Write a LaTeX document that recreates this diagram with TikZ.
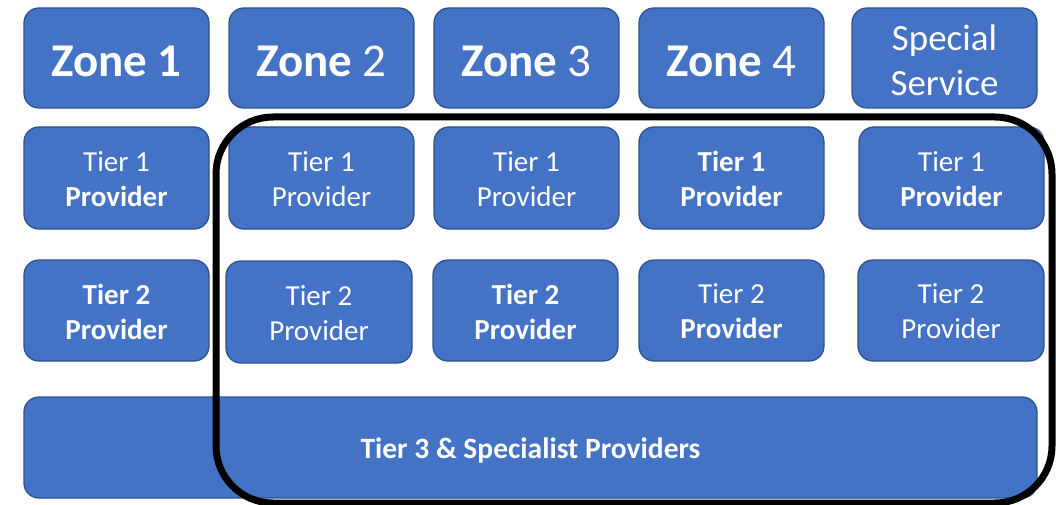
\documentclass[tikz,border=0pt]{standalone}
\usepackage{fontspec}
\setmainfont{Carlito}
\begin{document}
\begin{tikzpicture}[x=1pt,y=-1pt,
  blk/.style={draw=boxedge, fill=boxfill, line width=1.3pt,
    rounded corners=15pt, text=white, align=center, inner sep=0pt},
  ztext/.style={text=white, align=center, inner sep=0pt, yshift=-3pt,
    font=\fontsize{47}{54}\selectfont},
  stext/.style={text=white, align=center, inner sep=0pt, yshift=-2pt,
    font=\fontsize{37}{45}\selectfont},
  ttext/.style={text=white, align=center, inner sep=0pt, yshift=-1pt,
    font=\fontsize{29}{35}\selectfont},
  bandtext/.style={text=white, align=center, inner sep=0pt, yshift=-3pt,
    font=\fontsize{29.5}{35}\selectfont\bfseries},
  zonebox/.style={blk, minimum width=185pt, minimum height=100pt},
  tierbox/.style={blk, minimum width=185pt, minimum height=101pt},
  frame/.style={draw=black, line width=7pt, rounded corners=57pt}]
\definecolor{boxfill}{HTML}{4472C4}
\definecolor{boxedge}{HTML}{2F528F}
\useasboundingbox (0,0) rectangle (1056,505);

% zone headings
\node[zonebox, label={[ztext]center:\textbf{Zone 1}}] (z1) at (116.5,58) {};
\node[zonebox, label={[ztext]center:\textbf{Zone} 2}] (z2) at (321.5,58) {};
\node[zonebox, label={[ztext]center:\textbf{Zone} 3}] (z3) at (526.5,58) {};
\node[zonebox, label={[ztext]center:\textbf{Zone} 4}] (z4) at (731.5,58) {};
\node[zonebox, label={[stext]center:Special\\Service}] (sp) at (944.5,58) {};

% tier 1 providers
\node[tierbox, minimum height=102pt, label={[ttext]center:Tier 1\\\textbf{Provider}}] (a1) at (116.5,178) {};
\node[tierbox, minimum height=102pt, label={[ttext]center:Tier 1\\Provider}] (a2) at (321.5,178) {};
\node[tierbox, minimum height=102pt, label={[ttext]center:Tier 1\\Provider}] (a3) at (526.5,178) {};
\node[tierbox, minimum height=102pt, label={[ttext]center:\textbf{Tier 1}\\\textbf{Provider}}] (a4) at (731.5,178) {};
\node[tierbox, minimum height=102pt, label={[ttext]center:Tier 1\\\textbf{Provider}}] (a5) at (951.5,178) {};

% tier 2 providers
\node[tierbox, label={[ttext]center:\textbf{Tier 2}\\\textbf{Provider}}] (b1) at (116.5,310.5) {};
\node[tierbox, minimum width=186pt, minimum height=102pt, label={[ttext]center:Tier 2\\Provider}] (b2) at (319,312) {};
\node[tierbox, label={[ttext]center:\textbf{Tier 2}\\\textbf{Provider}}] (b3) at (525.5,310.5) {};
\node[tierbox, label={[ttext]center:Tier 2\\\textbf{Provider}}] (b4) at (731.5,310.5) {};
\node[tierbox, minimum width=186pt, label={[ttext]center:Tier 2\\Provider}] (b5) at (951,310.5) {};

% tier 3 band
\node[tierbox, minimum width=1013pt, label={[bandtext]center:Tier 3 \& Specialist Providers}] (c1) at (530.5,447.5) {};

% outline grouping zones 2--4 and special service
\draw[frame] (216,117) rectangle (1052,503);
\end{tikzpicture}
\end{document}
